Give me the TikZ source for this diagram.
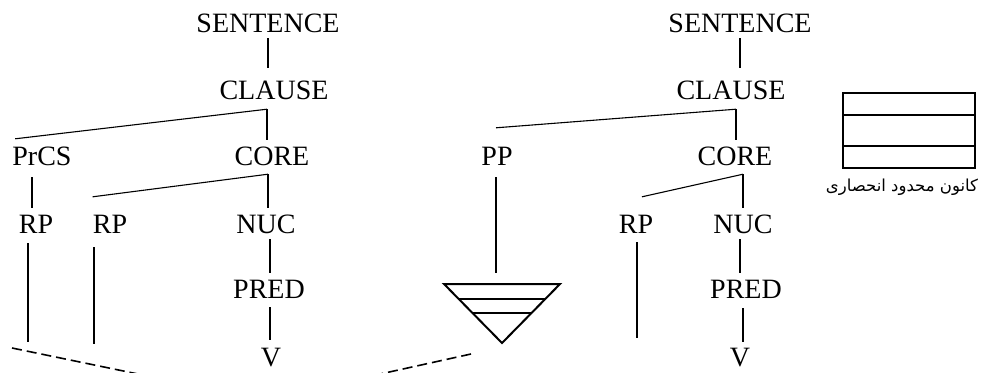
\documentclass[tikz,border=0pt]{standalone}
\usepackage{fontspec}
\setmainfont{Liberation Serif}
\newfontfamily\arabicfont[Script=Arabic]{DejaVu Sans}
\TeXXeTstate=1
\usetikzlibrary{calc}

\begin{document}
\begin{tikzpicture}[x=1pt,y=-1pt,
  lab/.style={font=\fontsize{28}{30}\selectfont, inner xsep=0pt, inner ysep=6pt,
              text height=18.5pt, text depth=0pt, anchor=base},
  leaf/.style={lab, inner ysep=1pt},
  edge/.style={line width=1.1pt},
  trunc/.style={line width=1.6pt, dash pattern=on 10pt off 5pt},
  heavy/.style={line width=2pt, line join=miter},
  thin/.style={line width=1.1pt}]

\useasboundingbox (0,0) rectangle (981,372);

% ---------------- left tree ----------------
\node[lab] (sentL)  at (268,32)  {SENTENCE};
\node[lab] (clauseL) at (274,99) {CLAUSE};
\node[lab] (prcs)   at (42,165)  {PrCS};
\node[lab] (coreL)  at (272,165) {CORE};
\node[lab] (rpA)    at (36,233)  {RP};
\node[lab] (rpB)    at (110,233) {RP};
\node[lab] (nucL)   at (266,233) {NUC};
\node[lab] (predL)  at (269,298) {PRED};
\node[leaf] (vL)    at (271,366) {V};

\draw[edge] (sentL.south) -- ($(sentL.south |- clauseL.north)+(0,-6.5)$);
\coordinate (jL) at ($(clauseL.south)+(-7,4)$);
\draw[edge] (jL) -- (jL |- coreL.north);
\draw[edge] (jL) -- ($(prcs.north west)+(3,-1.5)$);
\draw[edge] ($(prcs.south)+(-10,6)$) -- ($(prcs.south |- rpA.north)+(-10,0)$);
\coordinate (jCL) at ($(coreL.south)+(-4,3)$);
\draw[edge] (jCL) -- (jCL |- nucL.north);
\draw[edge] (jCL) -- ($(rpB.north west)+(0,-11.5)$);
\draw[edge] ($(rpA.south)+(-8,4)$) -- ++(0,99);
\draw[edge] ($(rpB.south)+(-16,8)$) -- ++(0,97);
\draw[edge] ($(nucL.south)+(4,0)$) -- ($(nucL.south |- predL.north)+(4,0)$);
\draw[edge] ($(predL.south)+(1,3)$) -- ($(predL.south |- vL.north)+(1,-6.5)$);

% ---------------- right tree ----------------
\node[lab] (sentR)  at (740,32)  {SENTENCE};
\node[lab] (clauseR) at (731,99) {CLAUSE};
\node[lab] (pp)     at (497,165) {PP};
\node[lab] (coreR)  at (735,165) {CORE};
\node[lab] (rpC)    at (636,233) {RP};
\node[lab] (nucR)   at (743,233) {NUC};
\node[lab] (predR)  at (746,298) {PRED};
\node[leaf] (vR)    at (740,366) {V};

\draw[edge] (sentR.south) -- ($(sentR.south |- clauseR.north)+(0,-6.5)$);
\coordinate (jR) at ($(clauseR.south)+(5,4)$);
\draw[edge] (jR) -- (jR |- coreR.north);
\draw[edge] (jR) -- ($(pp.north)+(-1,-12.5)$);
\draw[edge] ($(pp.south)+(-1,6)$) -- ++(0,96);
\coordinate (jCR) at ($(coreR.south)+(8,3)$);
\draw[edge] (jCR) -- (jCR |- nucR.north);
\draw[edge] (jCR) -- ($(rpC.north)+(6,-11.5)$);
\draw[edge] ($(rpC.south)+(1,3)$) -- ++(0,96);
\draw[edge] ($(nucR.south)+(-3,0)$) -- ($(nucR.south |- predR.north)+(-3,0)$);
\draw[edge] ($(predR.south)+(-3,4)$) -- ($(predR.south |- vR.north)+(-3,-4.5)$);

% abbreviated PP constituent
\coordinate (tl) at (444,284);
\coordinate (tr) at (560,284);
\coordinate (ap) at (502,343);
\draw[heavy] (tl) -- (tr) -- (ap) -- cycle;
\draw[thin] ($(tl)!0.254!(ap)$) -- ($(tr)!0.254!(ap)$);
\draw[thin] ($(tl)!0.492!(ap)$) -- ($(tr)!0.492!(ap)$);

% dashed outline of the left tree's base
\begin{scope}
  \clip (0,0) rectangle (981,372);
  \coordinate (dlA) at (12,348);
  \coordinate (dlB) at (167,380);
  \coordinate (drA) at (471,354);
  \coordinate (drB) at (353,380);
  \draw[trunc] (dlA) -- (dlB);
  \draw[trunc] (drA) -- (drB);
\end{scope}

% legend box
\coordinate (bxA) at (843,93);
\coordinate (bxB) at (975,168);
\draw[line width=1.6pt] (bxA) rectangle (bxB);
\draw[thin] (843,115) -- (975,115);
\draw[thin] (843,146) -- (975,146);
\node[font=\arabicfont\fontsize{16.5}{20}\selectfont, anchor=base, inner sep=0pt]
  (legend) at (902,191) {\beginR كانون محدود انحصاری\endR};

\end{tikzpicture}
\end{document}
